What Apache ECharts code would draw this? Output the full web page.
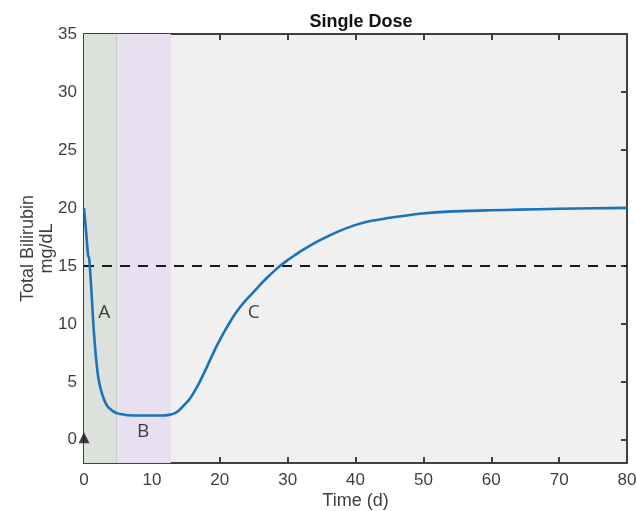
<!DOCTYPE html>
<html>
<head>
<meta charset="utf-8">
<script src="https://cdn.jsdelivr.net/npm/echarts@6/dist/echarts.min.js"></script>
<style>
  html, body { margin: 0; padding: 0; background: #fff; }
  #chart { width: 637px; height: 511px; }
</style>
</head>
<body>
<div id="chart"></div>
<script>
// time (days) and total bilirubin (mg/dL)
const times = [0, 0.3, 0.6, 0.75, 0.9, 1.13, 1.35, 1.6, 1.85, 2.1, 2.45, 2.84, 3.2, 3.6, 4.2, 4.8, 5.6, 6.5, 8, 10, 11.5, 12.5,
  13.4, 14.1, 14.85, 15.6, 16.3, 17.05, 17.8, 18.55, 19.3, 20, 20.7, 21.45, 22.2, 23, 23.7, 25, 26, 27, 28, 29, 30, 31, 32, 33,
  34.7, 37, 39.6, 42, 44.5, 47, 49.4, 54.3, 60, 64, 70, 75, 80];
const bilirubin = [20, 18.0, 15.9, 15.7, 14.6, 12.5, 10.2, 8.2, 6.6, 5.4, 4.4, 3.65, 3.15, 2.8, 2.5, 2.3, 2.2, 2.12, 2.1, 2.1, 2.1, 2.15,
  2.3, 2.6, 3.05, 3.55, 4.2, 5.0, 5.9, 6.85, 7.8, 8.6, 9.35, 10.1, 10.8, 11.45, 11.95, 12.75, 13.4, 14.0, 14.55, 15.05, 15.5, 15.9, 16.3, 16.65,
  17.2, 17.85, 18.45, 18.85, 19.1, 19.3, 19.5, 19.7, 19.8, 19.85, 19.93, 19.97, 20.0];

const threshold = 15;
const phaseA = [0, 4.75];
const phaseB = [4.75, 12.8];
const phaseLabels = [
  { name: 'A', value: [3.0, 11] },
  { name: 'B', value: [8.7, 0.7] },
  { name: 'C', value: [25, 11] }
];
const doseMarker = [[0, 0]];
const yTicks = [0, 5, 10, 15, 20, 25, 30, 35];

const axisColor = '#404040';
const fontMain = 'Liberation Sans, Arial, sans-serif';

const chart = echarts.init(document.getElementById('chart'));
const option = {
  animation: false,
  title: {
    text: 'Single Dose',
    left: 356, top: 8, textAlign: 'center',
    textStyle: { fontFamily: fontMain, fontSize: 18, fontWeight: 'bold', color: '#111' }
  },
  grid: {
    left: 84, right: 10, top: 34, bottom: 48,
    outerBoundsMode: 'none', containLabel: false,
    show: true, backgroundColor: '#f0f0f0', borderWidth: 0
  },
  xAxis: [
    {
      type: 'value', min: 0, max: 80, interval: 10,
      name: 'Time (d)', nameLocation: 'middle', nameGap: 29, nameMoveOverlap: false,
      nameTextStyle: { fontFamily: fontMain, fontSize: 18, color: axisColor },
      axisLine: { onZero: false, lineStyle: { color: axisColor, width: 2 } },
      axisTick: { inside: true, length: 6, lineStyle: { color: axisColor, width: 2 } },
      axisLabel: { fontFamily: fontMain, fontSize: 17, color: axisColor, margin: 9 },
      splitLine: { show: false }
    },
    {
      type: 'value', min: 0, max: 80, interval: 10, position: 'top',
      axisLine: { onZero: false, lineStyle: { color: axisColor, width: 2 } },
      axisTick: { inside: true, length: 6, lineStyle: { color: axisColor, width: 2 } },
      axisLabel: { show: false },
      splitLine: { show: false }
    }
  ],
  yAxis: [
    {
      type: 'value', min: -2, max: 35,
      name: 'Total Bilirubin\nmg/dL', nameLocation: 'middle', nameGap: 27, nameMoveOverlap: false,
      nameTextStyle: { fontFamily: fontMain, fontSize: 18, color: axisColor, lineHeight: 19 },
      axisLine: { onZero: false, lineStyle: { color: axisColor, width: 2 } },
      axisTick: { inside: true, length: 6, customValues: yTicks, lineStyle: { color: axisColor, width: 2 } },
      axisLabel: { customValues: yTicks, fontFamily: fontMain, fontSize: 17, color: axisColor, margin: 7 },
      splitLine: { show: false }
    },
    {
      type: 'value', min: -2, max: 35, position: 'right',
      axisLine: { onZero: false, lineStyle: { color: axisColor, width: 2 } },
      axisTick: { inside: true, length: 6, customValues: yTicks, lineStyle: { color: axisColor, width: 2 } },
      axisLabel: { show: false },
      splitLine: { show: false }
    }
  ],
  series: [
    {
      type: 'line',
      data: times.map((t, i) => [t, bilirubin[i]]),
      showSymbol: false,
      smooth: 0.25,
      z: 5,
      lineStyle: { color: '#1a72bb', width: 2.6, join: 'round' },
      markArea: {
        silent: true,
        data: [
          [{ xAxis: phaseA[0], itemStyle: { color: '#dce1dc' } }, { xAxis: phaseA[1] }],
          [{ xAxis: phaseB[0], itemStyle: { color: '#e6e0f0' } }, { xAxis: phaseB[1] }]
        ]
      },
      markLine: {
        silent: true,
        symbol: 'none',
        label: { show: false },
        data: [
          { yAxis: threshold, lineStyle: { color: '#1a1a1a', width: 2, type: [10, 8] } },
          { xAxis: phaseA[1], lineStyle: { color: '#c9cbc9', width: 1, type: 'solid' } }
        ]
      }
    },
    {
      type: 'scatter',
      data: doseMarker,
      symbol: 'triangle',
      symbolSize: 11,
      symbolOffset: [0, -2],
      z: 6,
      itemStyle: { color: '#111' }
    },
    {
      type: 'scatter',
      data: phaseLabels,
      symbolSize: 0,
      z: 6,
      label: {
        show: true, position: 'inside',
        formatter: p => p.name,
        fontFamily: 'Open Sans, sans-serif', fontSize: 19, color: '#111'
      }
    }
  ]
};
chart.setOption(option);
</script>
</body>
</html>
